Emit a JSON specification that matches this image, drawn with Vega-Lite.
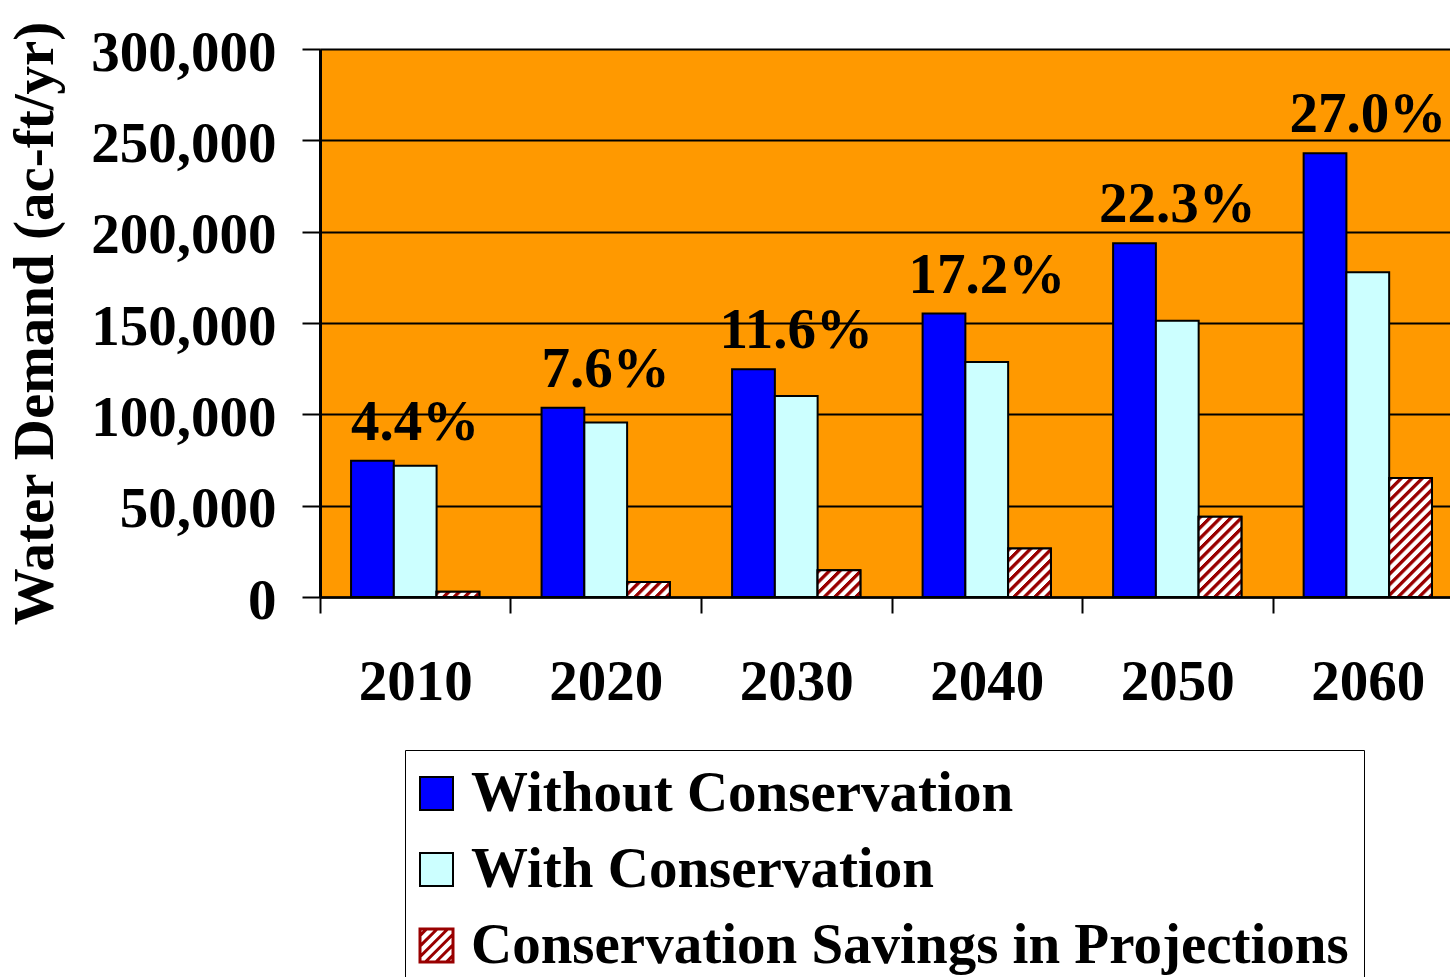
{
  "$schema": "https://vega.github.io/schema/vega-lite/v6.json",
  "width": 1130,
  "height": 548,
  "autosize": {"type": "none"},
  "padding": {"left": 320, "top": 49, "right": 0, "bottom": 380},
  "background": "white",
  "config": {
    "view": {"fill": "#FF9900", "stroke": null},
    "font": "Liberation Serif"
  },
  "datasets": {
    "bars": [
      {"year": "2010", "series": "Without Conservation", "value": 74600},
      {"year": "2010", "series": "With Conservation", "value": 71800},
      {"year": "2010", "series": "Conservation Savings in Projections", "value": 2900},
      {"year": "2020", "series": "Without Conservation", "value": 103600},
      {"year": "2020", "series": "With Conservation", "value": 95500},
      {"year": "2020", "series": "Conservation Savings in Projections", "value": 8200},
      {"year": "2030", "series": "Without Conservation", "value": 124700},
      {"year": "2030", "series": "With Conservation", "value": 110100},
      {"year": "2030", "series": "Conservation Savings in Projections", "value": 14600},
      {"year": "2040", "series": "Without Conservation", "value": 155200},
      {"year": "2040", "series": "With Conservation", "value": 128700},
      {"year": "2040", "series": "Conservation Savings in Projections", "value": 26600},
      {"year": "2050", "series": "Without Conservation", "value": 193700},
      {"year": "2050", "series": "With Conservation", "value": 151200},
      {"year": "2050", "series": "Conservation Savings in Projections", "value": 43900},
      {"year": "2060", "series": "Without Conservation", "value": 242900},
      {"year": "2060", "series": "With Conservation", "value": 177800},
      {"year": "2060", "series": "Conservation Savings in Projections", "value": 65100}
    ],
    "labels": [
      {"year": "2010", "value": 74600, "pct": "4.4%"},
      {"year": "2020", "value": 103600, "pct": "7.6%"},
      {"year": "2030", "value": 124700, "pct": "11.6%"},
      {"year": "2040", "value": 155200, "pct": "17.2%"},
      {"year": "2050", "value": 193700, "pct": "22.3%"},
      {"year": "2060", "value": 242900, "pct": "27.0%"}
    ]
  },
  "layer": [
    {
      "data": {"name": "bars"},
      "mark": {"type": "bar", "stroke": "black", "strokeWidth": 2, "opacity": 1},
      "encoding": {
        "x": {
          "field": "year", "type": "nominal",
          "scale": {"range": [0, 1143], "paddingInner": 0.3265, "paddingOuter": 0.163},
          "axis": {
            "title": null, "labelAngle": 0,
            "labelFont": "Liberation Serif", "labelFontSize": 57, "labelFontWeight": "bold", "labelColor": "black",
            "labelPadding": 41, "bandPosition": 0, "tickOffset": -31.1, "labelOffset": 31.1,
            "tickSize": 16, "tickColor": "black", "tickWidth": 2,
            "domainColor": "black", "domainWidth": 2.5, "grid": false
          }
        },
        "xOffset": {
          "field": "series", "type": "nominal",
          "scale": {"domain": ["Without Conservation", "With Conservation", "Conservation Savings in Projections"], "paddingInner": 0, "paddingOuter": 0}
        },
        "y": {
          "field": "value", "type": "quantitative",
          "scale": {"domain": [0, 300000], "nice": false},
          "axis": {
            "title": "Water Demand (ac-ft/yr)",
            "titleFont": "Liberation Serif", "titleFontSize": 57, "titleFontWeight": "bold", "titleColor": "black", "titlePadding": 56,
            "labelFont": "Liberation Serif", "labelFontSize": 57, "labelFontWeight": "bold", "labelColor": "black",
            "labelPadding": 26, "labelOffset": 4, "labelLimit": 500,
            "values": [0, 50000, 100000, 150000, 200000, 250000, 300000], "format": ",d",
            "tickSize": 18, "tickColor": "black", "tickWidth": 2,
            "grid": true, "gridColor": "black", "gridWidth": 2, "gridOpacity": 1,
            "domainColor": "black", "domainWidth": 3
          }
        },
        "fill": {
          "field": "series", "type": "nominal",
          "scale": {"domain": ["Without Conservation", "With Conservation", "Conservation Savings in Projections"], "range": ["#0000FF", "#CCFFFF", "#FFFFFF"]},
          "legend": {
            "title": null, "orient": "none", "legendX": 85, "legendY": 701, "direction": "vertical",
            "padding": 15, "strokeColor": "black", "fillColor": "white",
            "labelFont": "Liberation Serif", "labelFontSize": 57, "labelFontWeight": "bold", "labelColor": "black",
            "labelLimit": 2000, "labelOffset": 6, "symbolOffset": -12,
            "symbolType": "square", "symbolSize": 1089, "symbolStrokeColor": "black", "symbolStrokeWidth": 2, "symbolOpacity": 1,
            "rowPadding": 18,
            "encode": {
              "symbols": {
                "update": {
                  "stroke": {"signal": "datum.value === 'Conservation Savings in Projections' ? '#990000' : 'black'"},
                  "strokeWidth": {"signal": "datum.value === 'Conservation Savings in Projections' ? 3 : 2"},
                  "shape": {"signal": "datum.value === 'Conservation Savings in Projections' ? 'M-1,-1H1V1H-1Z M-1,-0.6L-0.6,-1 M-1,0.04L0.04,-1 M-1,0.68L0.68,-1 M-0.68,1L1,-0.68 M-0.04,1L1,-0.04 M0.6,1L1,0.6' : 'square'"}
                }
              }
            }
          }
        }
      }
    },
    {
      "data": {"name": "bars"},
      "transform": [{"filter": "datum.series === 'Conservation Savings in Projections'"}],
      "mark": {
        "type": "bar", "stroke": "black", "strokeWidth": 2,
        "fill": {"expr": "{gradient:'linear',x1:0,y1:0,x2:bandwidth('xOffset')*210/(pow(bandwidth('xOffset'),2)+pow(scale('y',0)-scale('y',datum.value),2)),y2:(scale('y',0)-scale('y',datum.value))*210/(pow(bandwidth('xOffset'),2)+pow(scale('y',0)-scale('y',datum.value),2)),stops:[{offset:0,color:'#900'},{offset:0.015,color:'#900'},{offset:0.025,color:'#fff'},{offset:0.045,color:'#fff'},{offset:0.05,color:'#900'},{offset:0.065,color:'#900'},{offset:0.075,color:'#fff'},{offset:0.095,color:'#fff'},{offset:0.1,color:'#900'},{offset:0.115,color:'#900'},{offset:0.125,color:'#fff'},{offset:0.145,color:'#fff'},{offset:0.15,color:'#900'},{offset:0.165,color:'#900'},{offset:0.175,color:'#fff'},{offset:0.195,color:'#fff'},{offset:0.2,color:'#900'},{offset:0.215,color:'#900'},{offset:0.225,color:'#fff'},{offset:0.245,color:'#fff'},{offset:0.25,color:'#900'},{offset:0.265,color:'#900'},{offset:0.275,color:'#fff'},{offset:0.295,color:'#fff'},{offset:0.3,color:'#900'},{offset:0.315,color:'#900'},{offset:0.325,color:'#fff'},{offset:0.345,color:'#fff'},{offset:0.35,color:'#900'},{offset:0.365,color:'#900'},{offset:0.375,color:'#fff'},{offset:0.395,color:'#fff'},{offset:0.4,color:'#900'},{offset:0.415,color:'#900'},{offset:0.425,color:'#fff'},{offset:0.445,color:'#fff'},{offset:0.45,color:'#900'},{offset:0.465,color:'#900'},{offset:0.475,color:'#fff'},{offset:0.495,color:'#fff'},{offset:0.5,color:'#900'},{offset:0.515,color:'#900'},{offset:0.525,color:'#fff'},{offset:0.545,color:'#fff'},{offset:0.55,color:'#900'},{offset:0.565,color:'#900'},{offset:0.575,color:'#fff'},{offset:0.595,color:'#fff'},{offset:0.6,color:'#900'},{offset:0.615,color:'#900'},{offset:0.625,color:'#fff'},{offset:0.645,color:'#fff'},{offset:0.65,color:'#900'},{offset:0.665,color:'#900'},{offset:0.675,color:'#fff'},{offset:0.695,color:'#fff'},{offset:0.7,color:'#900'},{offset:0.715,color:'#900'},{offset:0.725,color:'#fff'},{offset:0.745,color:'#fff'},{offset:0.75,color:'#900'},{offset:0.765,color:'#900'},{offset:0.775,color:'#fff'},{offset:0.795,color:'#fff'},{offset:0.8,color:'#900'},{offset:0.815,color:'#900'},{offset:0.825,color:'#fff'},{offset:1,color:'#fff'}]}"}
      },
      "encoding": {
        "x": {"field": "year", "type": "nominal"},
        "xOffset": {"field": "series", "type": "nominal"},
        "y": {"field": "value", "type": "quantitative"}
      }
    },
    {
      "data": {"name": "labels"},
      "mark": {"type": "text", "font": "Liberation Serif", "fontSize": 57, "fontWeight": "bold", "color": "black", "baseline": "alphabetic", "align": "center", "dy": -21},
      "encoding": {
        "x": {"field": "year", "type": "nominal"},
        "y": {"field": "value", "type": "quantitative"},
        "text": {"field": "pct"}
      }
    }
  ]
}
